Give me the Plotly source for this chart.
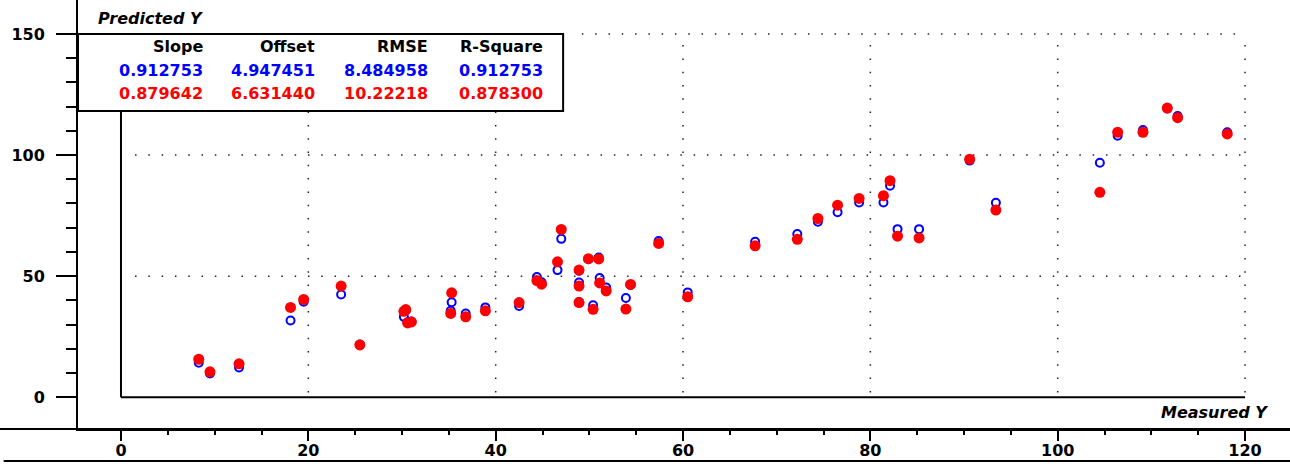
import plotly.graph_objects as go

# ---- data ----
measured = [8.3, 9.5, 12.6, 18.1, 19.5, 23.5, 25.5, 30.2, 30.4, 30.6, 31.0, 35.2, 35.3, 36.8,
            38.9, 42.5, 44.4, 44.9, 46.6, 47.0, 48.9, 48.9, 48.9, 49.9, 50.4, 51.0, 51.1, 51.8,
            53.9, 54.4, 57.4, 60.5, 67.7, 72.2, 74.4, 76.5, 78.8, 81.4, 82.1, 82.9, 85.2, 90.6,
            93.4, 104.5, 106.4, 109.1, 111.7, 112.8, 118.1]
pred_blue = [14.3, 9.8, 12.3, 31.7, 39.4, 42.4, 21.8, 33.2, 35.8, 31.0, 31.3, 35.7, 39.2, 34.6,
             37.1, 37.7, 49.6, 47.5, 52.5, 65.4, 52.2, 47.4, 39.3, 57.0, 38.0, 57.7, 49.2, 45.3,
             41.0, 46.4, 64.5, 43.3, 64.2, 67.4, 72.5, 76.4, 80.4, 80.4, 87.3, 69.4, 69.4, 97.7,
             80.3, 96.8, 108.0, 110.3, 119.2, 116.1, 109.4]
pred_red = [15.7, 10.5, 13.8, 37.1, 40.4, 45.9, 21.6, 35.5, 36.2, 30.7, 31.1, 34.6, 43.1, 33.2,
            35.7, 39.1, 48.2, 46.7, 55.9, 69.3, 52.5, 45.9, 39.1, 57.2, 36.3, 57.1, 47.2, 43.9,
            36.4, 46.6, 63.5, 41.5, 62.5, 65.2, 73.8, 79.3, 82.1, 83.2, 89.4, 66.5, 65.8, 98.3,
            77.3, 84.6, 109.4, 109.4, 119.4, 115.4, 108.7]

x_ticks = [0, 20, 40, 60, 80, 100, 120]
x_minor = [5, 10, 15, 25, 30, 35, 45, 50, 55, 65, 70, 75, 85, 90, 95, 105, 110, 115]
y_ticks = [0, 50, 100, 150]
y_minor = [10, 20, 30, 40, 60, 70, 80, 90, 110, 120, 130, 140]
table_header = ["Slope", "Offset", "RMSE", "R-Square"]
table_blue = ["0.912753", "4.947451", "8.484958", "0.912753"]
table_red = ["0.879642", "6.631440", "10.22218", "0.878300"]

W, H = 1290, 466
ML, MB = 78, 37
PW, PH = W - ML, H - MB
XR = [-4.59, 124.8]
YR = [-13.1, 164.0]

FONT = "DejaVu Sans"

fig = go.Figure()
fig.add_trace(go.Scatter(x=measured, y=pred_blue, mode="markers",
                         marker=dict(symbol="circle-open", size=8, color="#0000ff",
                                     line=dict(width=2, color="#0000ff")),
                         showlegend=False, hoverinfo="skip"))
fig.add_trace(go.Scatter(x=measured, y=pred_red, mode="markers",
                         marker=dict(symbol="circle", size=11, color="#ff0000"),
                         showlegend=False, hoverinfo="skip"))

shapes = []
dot = "1.5px,11.8px"
gcol = "#222222"
for xv in x_ticks[1:]:
    shapes.append(dict(type="line", xref="x", yref="y", x0=xv, x1=xv, y0=2, y1=150,
                       line=dict(color=gcol, width=1.5, dash=dot), layer="below"))
for yv in [50, 100]:
    shapes.append(dict(type="line", xref="x", yref="y", x0=1.5, x1=120, y0=yv, y1=yv,
                       line=dict(color=gcol, width=1.5, dash=dot), layer="below"))
box_x1 = 47.2
box_y0 = 118.2
shapes.append(dict(type="line", xref="x", yref="y", x0=box_x1 + 2, x1=120, y0=150, y1=150,
                   line=dict(color=gcol, width=1.5, dash=dot), layer="below"))
# frame
shapes.append(dict(type="line", xref="x", yref="y", x0=0, x1=0, y0=0, y1=box_y0,
                   line=dict(color="black", width=2)))
shapes.append(dict(type="line", xref="x", yref="y", x0=0, x1=120, y0=0, y1=0,
                   line=dict(color="black", width=2)))
# stats box
shapes.append(dict(type="rect", xref="x", yref="y", x0=XR[0], x1=box_x1, y0=box_y0, y1=150,
                   line=dict(color="black", width=2), fillcolor="white", layer="below"))
# extension of the bottom axis line to the left edge and second line
shapes.append(dict(type="line", xref="paper", yref="paper", x0=-ML / PW, x1=1, y0=0, y1=0,
                   line=dict(color="black", width=2)))
shapes.append(dict(type="line", xref="paper", yref="paper", x0=-ML / PW + 0.003, x1=1,
                   y0=-(461 - PH) / PH, y1=-(461 - PH) / PH,
                   line=dict(color="black", width=2)))

ann = []
def px2paper(px, py):
    return (px - ML) / PW, 1 - py / PH

col_right = [205, 317, 430, 545]
rows = [(table_header, "black", 47), (table_blue, "#0000ff", 70), (table_red, "#ff0000", 93)]
for texts, col, py in rows:
    for t, rx in zip(texts, col_right):
        xp, yp = px2paper(rx, py)
        ann.append(dict(text=t, x=xp, y=yp, xref="paper", yref="paper", xanchor="right",
                        yanchor="middle", showarrow=False,
                        font=dict(family=FONT, size=16, color=col, weight="bold")))
xp, yp = px2paper(96, 19)
ann.append(dict(text="Predicted Y", x=xp, y=yp, xref="paper", yref="paper", xanchor="left",
                yanchor="middle", showarrow=False,
                font=dict(family=FONT, size=16, color="black", weight="bold", style="italic")))
xp, yp = px2paper(1270, 412)
ann.append(dict(text="Measured Y", x=xp, y=yp, xref="paper", yref="paper", xanchor="right",
                yanchor="middle", showarrow=False,
                font=dict(family=FONT, size=16, color="black", weight="bold", style="italic")))

fig.update_layout(
    width=W, height=H, margin=dict(l=ML, r=0, t=0, b=MB, pad=0),
    paper_bgcolor="white", plot_bgcolor="white",
    shapes=shapes, annotations=ann,
    xaxis=dict(range=XR, showgrid=False, zeroline=False, showline=True, linecolor="black",
               linewidth=2, ticks="outside", ticklen=10, tickwidth=2, tickcolor="black",
               tickvals=x_ticks, ticktext=[str(v) for v in x_ticks],
               tickfont=dict(family=FONT, size=16, color="black", weight="bold"),
               ticklabelstandoff=-4,
               minor=dict(tickvals=x_minor, ticks="outside", ticklen=4, tickwidth=2,
                          tickcolor="black", showgrid=False)),
    yaxis=dict(range=YR, showgrid=False, zeroline=False, showline=True, linecolor="black",
               linewidth=2, ticks="outside", ticklen=20, tickwidth=2, tickcolor="black",
               tickvals=y_ticks, ticktext=[str(v) for v in y_ticks],
               tickfont=dict(family=FONT, size=16, color="black", weight="bold"),
               ticklabelstandoff=8,
               minor=dict(tickvals=y_minor, ticks="outside", ticklen=10, tickwidth=2,
                          tickcolor="black", showgrid=False)),
)
fig.write_html("out.html", config={"displayModeBar": False},
               post_script="document.body.style.margin='0';document.body.style.overflow='hidden';")
